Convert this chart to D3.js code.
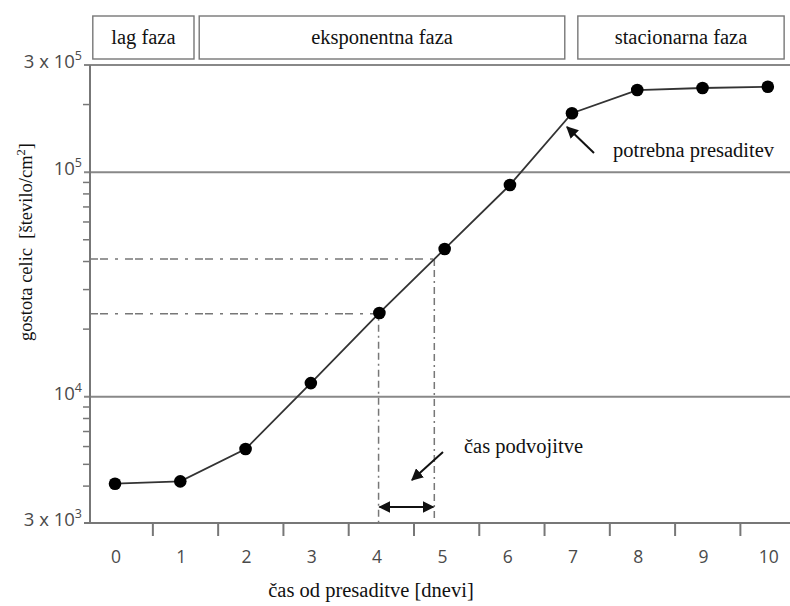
<!DOCTYPE html>
<html>
<head>
<meta charset="utf-8">
<script src="https://cdn.jsdelivr.net/npm/d3@7"></script>
<style>
  body { margin: 0; background: #fff; }
  .serif { font-family: "Liberation Serif", "Times New Roman", Times, serif; }
  .sans { font-family: "Open Sans", "Noto Sans", sans-serif; }
</style>
</head>
<body>
<div id="chart"></div>
<script>
// measurements (days after subculture, cells per cm2)
let days = [0, 1, 2, 3, 4.05, 5.05, 6.05, 7, 8, 9, 10]
let density = [4100, 4200, 5850, 11500, 23600, 45500, 87700, 183000, 232000, 237000, 240000]

let xLabels = [0, 1, 2, 3, 4, 5, 6, 7, 8, 9, 10]

// y axis: gridlines + labels, minor ticks
let yGrid = [300000, 100000, 10000]
let yLabels = [
  {v: 300000, base: "3 x 10", exp: "5"},
  {v: 100000, base: "10", exp: "5"},
  {v: 10000, base: "10", exp: "4"},
  {v: 2740, base: "3 x 10", exp: "3"}
]
let yMinor = [200000, 90000, 80000, 70000, 60000, 50000, 40000, 30000, 20000,
              9000, 8000, 7000, 6000, 5000, 4000]

// growth phases (in days)
let phaseNames = ["lag faza", "eksponentna faza", "stacionarna faza"]
let phaseStart = [-0.34, 1.29, 7.09]
let phaseEnd = [1.21, 6.89, 10.25]

// doubling time guide (two densities)
let doubling = [23400, 41000]

let width = 790, height = 606

let x = d3.scaleLinear().domain([-0.383, 10.34]).range([90, 790])
let y = d3.scaleLog().domain([2740, 300000]).range([523, 65])

let svg = d3.select("#chart")
  .append("svg")
  .attr("width", width)
  .attr("height", height)

let defs = svg.append("defs")
function marker(id, orient) {
  defs.append("marker")
    .attr("id", id)
    .attr("viewBox", "0 0 10 10")
    .attr("refX", 9).attr("refY", 5)
    .attr("markerWidth", 12).attr("markerHeight", 12)
    .attr("markerUnits", "userSpaceOnUse")
    .attr("orient", orient)
    .append("path")
    .attr("d", "M0,0 L10,5 L0,10 z")
    .attr("fill", "#111")
}
marker("head", "auto")
marker("tail", "auto-start-reverse")

function serifText(sel, size) {
  return sel.attr("class", "serif").style("font-size", size + "px").attr("fill", "#111")
}

// phase boxes
let phases = phaseNames.map(function(n, i) {
  return {name: n, s: phaseStart[i], e: phaseEnd[i]}
})
let pg = svg.selectAll(".phase").data(phases).enter().append("g").attr("class", "phase")
pg.append("rect")
  .attr("x", d => x(d.s))
  .attr("y", 16)
  .attr("width", d => x(d.e) - x(d.s))
  .attr("height", 43)
  .attr("fill", "none")
  .attr("stroke", "#777")
  .attr("stroke-width", 1.4)
pg.append("text")
  .call(serifText, 20.5)
  .attr("x", d => (x(d.s) + x(d.e)) / 2)
  .attr("y", 44)
  .attr("text-anchor", "middle")
  .text(d => d.name)

// gridlines
svg.selectAll(".grid").data(yGrid).enter().append("line")
  .attr("x1", 84).attr("x2", width)
  .attr("y1", d => y(d)).attr("y2", d => y(d))
  .attr("stroke", "#888").attr("stroke-width", 2)

// minor ticks
svg.selectAll(".minor").data(yMinor).enter().append("line")
  .attr("x1", 83).attr("x2", 90)
  .attr("y1", d => y(d)).attr("y2", d => y(d))
  .attr("stroke", "#777").attr("stroke-width", 1.5)

// axes
svg.append("line")
  .attr("x1", 90).attr("x2", 90)
  .attr("y1", y(300000)).attr("y2", y.range()[0])
  .attr("stroke", "#777").attr("stroke-width", 2)
svg.append("line")
  .attr("x1", 84).attr("x2", width)
  .attr("y1", y.range()[0]).attr("y2", y.range()[0])
  .attr("stroke", "#777").attr("stroke-width", 2)

// x ticks sit between the day labels
svg.selectAll(".xtick").data(xLabels).enter().append("line")
  .attr("x1", d => x(d + 0.58)).attr("x2", d => x(d + 0.58))
  .attr("y1", y.range()[0]).attr("y2", y.range()[0] + 13)
  .attr("stroke", "#777").attr("stroke-width", 2)

svg.selectAll(".xlab").data(xLabels).enter().append("text")
  .attr("class", "sans").attr("fill", "#4a4a4a")
  .attr("x", d => x(d) + 1)
  .attr("y", 563)
  .attr("text-anchor", "middle")
  .style("font-size", "17.5px")
  .text(d => d)

// y labels with superscripts
let yl = svg.selectAll(".ylab").data(yLabels).enter().append("text")
  .attr("class", "sans").attr("fill", "#4a4a4a")
  .attr("x", 82)
  .attr("y", d => y(d.v) + 3)
  .attr("text-anchor", "end")
  .style("font-size", "18.5px")
yl.append("tspan").text(d => d.base)
yl.append("tspan").attr("dy", -8).style("font-size", "12.5px").text(d => d.exp)

// doubling time guides: find where the curve reaches each density
function dayAt(v) {
  let lv = Math.log10(v)
  for (let i = 0; i < days.length - 1; i++) {
    let a = Math.log10(density[i]), b = Math.log10(density[i + 1])
    if (lv >= a && lv <= b) return days[i] + (lv - a) / (b - a) * (days[i + 1] - days[i])
  }
  return days[0]
}
let guides = doubling.map(v => ({v: v, d: dayAt(v)}))

svg.selectAll(".hguide").data(guides).enter().append("line")
  .attr("x1", 90).attr("x2", d => x(d.d))
  .attr("y1", d => y(d.v)).attr("y2", d => y(d.v))
  .attr("stroke", "#777").attr("stroke-width", 1.5)
  .attr("stroke-dasharray", "8,2,8,7,3,7")
svg.selectAll(".vguide").data(guides).enter().append("line")
  .attr("x1", d => x(d.d)).attr("x2", d => x(d.d))
  .attr("y1", d => y(d.v)).attr("y2", y.range()[0])
  .attr("stroke", "#777").attr("stroke-width", 1.5)
  .attr("stroke-dasharray", "7,4,7,4,2,4")

// double arrow for doubling time
svg.append("line")
  .attr("x1", x(guides[0].d) + 1).attr("x2", x(guides[1].d) - 1)
  .attr("y1", 507).attr("y2", 507)
  .attr("stroke", "#111").attr("stroke-width", 2)
  .attr("marker-start", "url(#tail)")
  .attr("marker-end", "url(#head)")

// growth curve
let pts = days.map((d, i) => [d, density[i]])
svg.append("path")
  .datum(pts)
  .attr("fill", "none")
  .attr("stroke", "#333")
  .attr("stroke-width", 1.8)
  .attr("d", d3.line().x(d => x(d[0])).y(d => y(d[1])))

svg.selectAll(".dot").data(pts).enter().append("circle")
  .attr("cx", d => x(d[0]))
  .attr("cy", d => y(d[1]))
  .attr("r", 6.3)
  .attr("fill", "#000")

// annotations
svg.append("line")
  .attr("x1", 594).attr("y1", 153)
  .attr("x2", 567).attr("y2", 127)
  .attr("stroke", "#111").attr("stroke-width", 2)
  .attr("marker-end", "url(#head)")
svg.append("text")
  .call(serifText, 20.5)
  .attr("x", 613).attr("y", 157)
  .text("potrebna presaditev")

svg.append("line")
  .attr("x1", 443).attr("y1", 452)
  .attr("x2", 412).attr("y2", 480)
  .attr("stroke", "#111").attr("stroke-width", 2)
  .attr("marker-end", "url(#head)")
svg.append("text")
  .call(serifText, 20.5)
  .attr("x", 464).attr("y", 453)
  .text("čas podvojitve")

// axis titles
svg.append("text")
  .call(serifText, 20.5)
  .attr("x", 371).attr("y", 597)
  .attr("text-anchor", "middle")
  .text("čas od presaditve [dnevi]")

let yt = svg.append("text")
  .call(serifText, 18.5)
  .attr("transform", "translate(32,242) rotate(-90)")
  .attr("text-anchor", "middle")
  .style("white-space", "pre")
yt.append("tspan").text("gostota celic  [število/cm")
yt.append("tspan").attr("dy", -7).style("font-size", "12.5px").text("2")
yt.append("tspan").attr("dy", 7).text("]")
</script>
</body>
</html>
